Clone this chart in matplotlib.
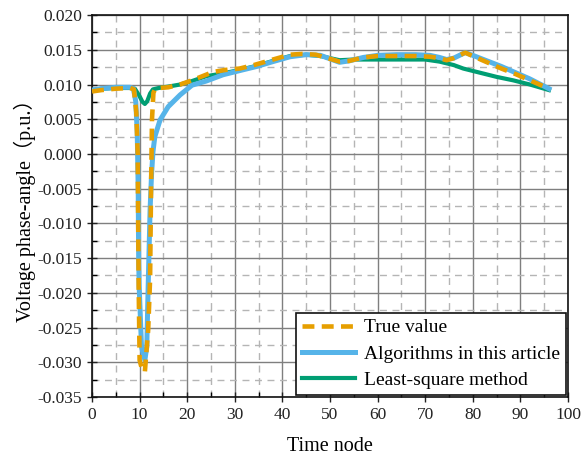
import numpy as np
import matplotlib
matplotlib.use("Agg")
import matplotlib.pyplot as plt
from matplotlib.ticker import MultipleLocator, FormatStrFormatter

plt.rcParams['font.family'] = ['Liberation Serif', 'Noto Sans CJK SC']
plt.rcParams['axes.unicode_minus'] = False

# True value
x_true = [0, 2, 5, 8, 8.8, 9.3, 9.6, 9.7, 9.8, 10.0, 10.5, 11.1, 11.8, 12.2, 12.4, 12.5, 12.6, 12.9, 13.3,
          14, 16, 18.5, 21, 25.4, 28, 31, 34, 37, 41.6, 44, 47, 50, 52, 54, 57, 60, 64, 68, 71, 73, 74.5, 76,
          78.4, 80, 83, 86, 89, 92, 96]
y_true = [0.0090, 0.0092, 0.0094, 0.0095, 0.0093, 0.0060, 0.0000, -0.0100, -0.0190, -0.0297, -0.0310, -0.0314,
          -0.0253, -0.0180, -0.0050, 0.0000, 0.0050, 0.0088, 0.0094,
          0.0095, 0.0096, 0.0100, 0.0106, 0.0118, 0.0121, 0.0123, 0.0128, 0.0134, 0.0143, 0.0144, 0.0143, 0.0137,
          0.0133, 0.0134, 0.0139, 0.0141, 0.0141, 0.0141, 0.0140, 0.0138, 0.0135, 0.0138,
          0.0146, 0.0141, 0.0132, 0.0123, 0.0115, 0.0106, 0.0094]

# Algorithms in this article
x_alg = [0, 2, 5, 8, 8.7, 9.2, 9.5, 9.7, 9.8, 9.9, 10.4, 11.1, 11.5, 11.8, 12.2, 12.5, 12.8, 13.2, 14.3,
         16, 18.5, 21, 24, 27.5, 31, 34.6, 38, 41.6, 45, 48, 50, 52, 54, 57, 60, 64, 68, 71, 73, 74.5, 76,
         78.4, 80, 83, 86, 89, 92, 96]
y_alg = [0.0092, 0.0094, 0.0096, 0.0096, 0.0094, 0.0075, 0.0030, -0.0050, -0.0150, -0.0190, -0.0278, -0.0297,
         -0.0278, -0.0190, -0.0080, -0.0030, 0.0003, 0.0025, 0.0049,
         0.0068, 0.0085, 0.0099, 0.0105, 0.0114, 0.0120, 0.0126, 0.0133, 0.0140, 0.0143, 0.0142, 0.0137, 0.0132,
         0.0134, 0.0139, 0.0142, 0.0143, 0.0143, 0.0142, 0.0139, 0.0136, 0.0138,
         0.0146, 0.0142, 0.0134, 0.0126, 0.0117, 0.0108, 0.0094]

# Least-square method
x_ls = [0, 2, 5, 8, 9.0, 10.0, 10.6, 11.1, 11.6, 12.2, 12.8, 14, 16, 18.5, 21, 24, 27.5, 31, 34.6, 38, 41.6,
        45, 48, 50, 52, 55, 60, 65, 70, 73, 76, 78, 81.5, 85, 88.5, 92, 96]
y_ls = [0.0092, 0.0094, 0.0095, 0.0095, 0.0094, 0.0083, 0.0075, 0.0072, 0.0076, 0.0087, 0.0093, 0.0095, 0.0097,
        0.0100, 0.0105, 0.0112, 0.0116, 0.0121, 0.0127, 0.0134, 0.0141,
        0.0143, 0.0141, 0.0138, 0.0135, 0.0136, 0.0136, 0.0136, 0.0136, 0.0133, 0.0128, 0.0123, 0.0117, 0.0111,
        0.0106, 0.0100, 0.0092]

fig = plt.figure(figsize=(5.88, 4.57), dpi=100)
ax = fig.add_axes([0.1565, 0.1313, 0.8095, 0.8357])

ax.plot(x_ls, y_ls, color='#009E73', lw=3.0, label='Least-square method', zorder=3)
ax.plot(x_alg, y_alg, color='#56B4E9', lw=3.6, label='Algorithms in this article', zorder=4)
ax.plot(x_true, y_true, color='#E69F00', lw=3.3, ls=(0, (2.6, 1.6)), label='True value', zorder=5)

ax.set_xlim(0, 100)
ax.set_ylim(-0.035, 0.020)
ax.xaxis.set_major_locator(MultipleLocator(10))
ax.xaxis.set_minor_locator(MultipleLocator(5))
ax.yaxis.set_major_locator(MultipleLocator(0.005))
ax.yaxis.set_minor_locator(MultipleLocator(0.0025))
ax.yaxis.set_major_formatter(FormatStrFormatter('%.3f'))

ax.grid(which='major', color='#7f7f7f', lw=1.0, ls='-', zorder=0)
ax.grid(which='minor', color='#b5b5b5', lw=1.0, ls=(0, (5, 4)), zorder=0)
ax.set_axisbelow(True)

ax.tick_params(which='major', direction='inout', length=7, width=1.0, labelsize=12.5, colors='#222222')
ax.tick_params(which='minor', direction='in', length=3.5, width=1.0)
for s in ax.spines.values():
    s.set_linewidth(1.2)
    s.set_color('#111111')

ax.set_xlabel('Time node', fontsize=14.5, labelpad=10)
ax.set_ylabel('Voltage phase-angle（p.u.）', fontsize=14.5, labelpad=1)

handles, labels = ax.get_legend_handles_labels()
leg = ax.legend(handles[::-1], labels[::-1], loc='lower right', fontsize=14, frameon=True, fancybox=False,
                edgecolor='#111111', framealpha=1, borderaxespad=0.1, handlelength=2.7, labelspacing=0.45,
                borderpad=0.3, handletextpad=0.5)
leg.get_frame().set_linewidth(1.2)

fig.savefig('out.png', dpi=100)
